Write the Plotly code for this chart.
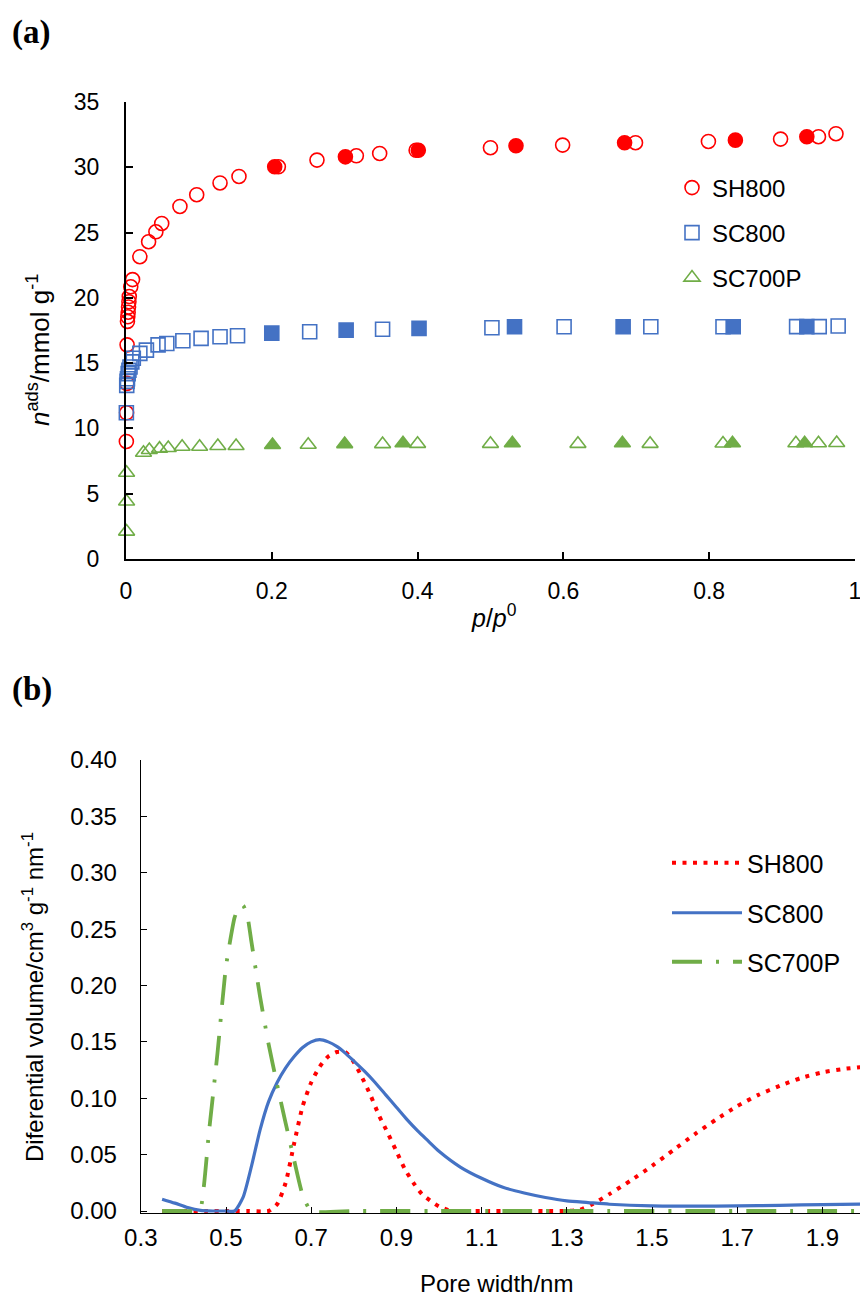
import plotly.graph_objects as go

W, H = 860, 1297

# ---------------- Panel (a) data: N2 isotherms ----------------
sh800_ads_x = [0.0005, 0.0008, 0.0012, 0.0015, 0.002, 0.0025, 0.003, 0.0035, 0.004, 0.0045, 0.0065, 0.009,
               0.019, 0.031, 0.041, 0.049, 0.074, 0.097, 0.129, 0.155, 0.209, 0.262, 0.316, 0.348, 0.398,
               0.500, 0.599, 0.699, 0.799, 0.898, 0.950, 0.974]
sh800_ads_y = [9.0, 11.2, 13.45, 16.4, 18.2, 18.55, 18.9, 19.3, 19.7, 20.1, 20.85, 21.4,
               23.15, 24.3, 25.06, 25.7, 27.0, 27.9, 28.8, 29.3, 30.04, 30.55, 30.88, 31.06, 31.3,
               31.5, 31.7, 31.88, 31.98, 32.16, 32.34, 32.57]
sh800_des_x = [0.204, 0.301, 0.401, 0.535, 0.684, 0.836, 0.934]
sh800_des_y = [30.04, 30.8, 31.3, 31.65, 31.88, 32.08, 32.34]

sc800_ads_x = [0.0005, 0.001, 0.0015, 0.002, 0.003, 0.004, 0.0055, 0.008, 0.010, 0.019, 0.028, 0.044, 0.056,
               0.078, 0.103, 0.129, 0.153, 0.252, 0.352, 0.502, 0.601, 0.720, 0.819, 0.920, 0.951, 0.977]
sc800_ads_y = [11.2, 13.3, 13.6, 13.8, 14.2, 14.45, 14.7, 15.1, 15.37, 15.75, 16.0, 16.4, 16.5,
               16.72, 16.9, 17.02, 17.1, 17.4, 17.59, 17.71, 17.79, 17.79, 17.79, 17.8, 17.8, 17.84]
sc800_des_x = [0.200, 0.302, 0.402, 0.533, 0.682, 0.833, 0.934]
sc800_des_y = [17.3, 17.53, 17.66, 17.79, 17.79, 17.79, 17.8]

sc700p_ads_x = [0.0008, 0.0008, 0.0008, 0.024, 0.032, 0.046, 0.058, 0.077, 0.101, 0.126, 0.151, 0.250,
                0.352, 0.400, 0.500, 0.620, 0.719, 0.819, 0.919, 0.950, 0.975]
sc700p_ads_y = [2.1, 4.4, 6.6, 8.14, 8.35, 8.45, 8.5, 8.6, 8.6, 8.65, 8.65, 8.75,
                8.8, 8.82, 8.82, 8.82, 8.82, 8.84, 8.86, 8.86, 8.88]
sc700p_des_x = [0.201, 0.300, 0.380, 0.530, 0.681, 0.832, 0.931]
sc700p_des_y = [8.73, 8.8, 8.86, 8.86, 8.86, 8.86, 8.86]

iso_ticks = [0, 0.2, 0.4, 0.6, 0.8, 1.0]
iso_ticktext = ["0", "0.2", "0.4", "0.6", "0.8", "1"]

# ---------------- Panel (b) data: pore size distributions ----------------
sh800_w = [0.35, 0.40, 0.45, 0.50, 0.55, 0.60, 0.62, 0.64, 0.66, 0.68, 0.70, 0.72, 0.74, 0.76, 0.78, 0.80,
           0.82, 0.84, 0.86, 0.88, 0.90, 0.92, 0.94, 0.96, 0.98, 1.00, 1.03, 1.10, 1.20, 1.30, 1.33, 1.36,
           1.40, 1.45, 1.50, 1.55, 1.60, 1.65, 1.70, 1.75, 1.80, 1.85, 1.90, 1.95, 2.00]
sh800_dv = [0, 0, 0, 0, 0, 0, 0.006, 0.025, 0.060, 0.093, 0.114, 0.128, 0.137, 0.141, 0.141, 0.132,
            0.118, 0.102, 0.084, 0.069, 0.053, 0.037, 0.025, 0.015, 0.009, 0.004, 0, 0, 0, 0, 0.001, 0.006,
            0.015, 0.027, 0.040, 0.054, 0.068, 0.081, 0.093, 0.103, 0.111, 0.118, 0.123, 0.126, 0.128]

sc800_w = [0.35, 0.38, 0.41, 0.44, 0.47, 0.50, 0.52, 0.54, 0.56, 0.58, 0.60, 0.62, 0.64, 0.66, 0.68, 0.70,
           0.72, 0.74, 0.76, 0.78, 0.80, 0.825, 0.85, 0.875, 0.90, 0.925, 0.95, 0.975, 1.00, 1.05, 1.10,
           1.15, 1.20, 1.25, 1.30, 1.35, 1.40, 1.50, 1.60, 1.70, 1.80, 1.90, 2.00]
sc800_dv = [0.0105, 0.007, 0.003, 0.0005, 0, 0, 0, 0.012, 0.040, 0.072, 0.097, 0.114, 0.127, 0.137, 0.145,
            0.150, 0.152, 0.150, 0.146, 0.140, 0.133, 0.124, 0.114, 0.103, 0.092, 0.081, 0.071, 0.062,
            0.053, 0.039, 0.029, 0.021, 0.016, 0.012, 0.009, 0.0075, 0.006, 0.0045, 0.0043, 0.0045, 0.005,
            0.0057, 0.0062]

sc700p_w = [0.35, 0.40, 0.43, 0.44, 0.46, 0.48, 0.50, 0.52, 0.53, 0.54, 0.55, 0.56, 0.58, 0.60, 0.62, 0.64,
            0.66, 0.68, 0.70, 0.80, 1.00, 1.20, 1.40, 1.60, 1.80, 2.00]
sc700p_dv = [0, 0, 0, 0.002, 0.070, 0.140, 0.217, 0.260, 0.270, 0.271, 0.262, 0.238, 0.190, 0.148, 0.112,
             0.078, 0.045, 0.014, 0, 0, 0, 0, 0, 0, 0, 0]

psd_ticks = [0.3, 0.5, 0.7, 0.9, 1.1, 1.3, 1.5, 1.7, 1.9]
psd_yticks = [0, 0.05, 0.10, 0.15, 0.20, 0.25, 0.30, 0.35, 0.40]

RED, BLUE, GREEN = "#FF0000", "#4472C4", "#70AD47"
FONT = "Arial, Liberation Sans, sans-serif"

fig = go.Figure()

def mk(x, y, sym, color, name, show, legend):
    return go.Scatter(x=x, y=y, mode="markers", name=name, showlegend=show, legend=legend,
                      cliponaxis=False, xaxis="x", yaxis="y",
                      marker=dict(symbol=sym, size=14, color=color, line=dict(width=1.6, color=color)))

fig.add_trace(mk(sh800_ads_x, sh800_ads_y, "circle-open", RED, "SH800", True, "legend"))
fig.add_trace(mk(sc800_ads_x, sc800_ads_y, "square-open", BLUE, "SC800", True, "legend2"))
fig.add_trace(mk(sc700p_ads_x, sc700p_ads_y, "triangle-up-open", GREEN, "SC700P", True, "legend3"))
fig.add_trace(mk(sh800_des_x, sh800_des_y, "circle", RED, "SH800 des", False, "legend"))
fig.add_trace(mk(sc800_des_x, sc800_des_y, "square", BLUE, "SC800 des", False, "legend2"))
fig.add_trace(mk(sc700p_des_x, sc700p_des_y, "triangle-up", GREEN, "SC700P des", False, "legend3"))

fig.add_trace(go.Scatter(x=sh800_w, y=sh800_dv, mode="lines", name="SH800", xaxis="x2", yaxis="y2",
                         legend="legend4", line=dict(color=RED, width=4, dash="4px,6.5px", shape="spline", smoothing=0.6)))
fig.add_trace(go.Scatter(x=sc800_w, y=sc800_dv, mode="lines", name="SC800", xaxis="x2", yaxis="y2",
                         legend="legend5", line=dict(color=BLUE, width=3.2, shape="spline", smoothing=0.6)))
fig.add_trace(go.Scatter(x=sc700p_w, y=sc700p_dv, mode="lines", name="SC700P", xaxis="x2", yaxis="y2",
                         legend="legend6", line=dict(color=GREEN, width=3.8, dash="30px,14px,3px,14px",
                                                     shape="spline", smoothing=0.5)))

def px_x(p):
    return p / W

def px_y(p):
    return 1 - p / H

axis_common = dict(showgrid=False, zeroline=False, showline=True, linecolor="black", ticks="inside",
                   tickcolor="black", mirror=False, automargin=False, ticklabeloverflow="allow")

# small negative offset so lines lying on zero are not half-clipped (in data units)
y2_lo = -0.0018
y2_bottom_px = 1211 + (-y2_lo) * 1127.5

fig.update_layout(
    template="none",
    width=W, height=H, margin=dict(l=0, r=0, t=0, b=0, pad=0),
    paper_bgcolor="white", plot_bgcolor="white",
    font=dict(family=FONT, color="black"),
    xaxis=dict(domain=[px_x(126), px_x(855)], anchor="y", range=[0, 1.0001], tickvals=iso_ticks,
               ticktext=iso_ticktext, ticklen=7, tickwidth=1.5, linewidth=2,
               tickfont=dict(size=23, family=FONT), ticklabelstandoff=10, **axis_common),
    yaxis=dict(domain=[px_y(559), px_y(102)], anchor="x", range=[0, 35], dtick=5, tick0=0,
               ticklen=7, tickwidth=1.5, linewidth=2,
               tickfont=dict(size=23, family=FONT), ticklabelstandoff=20, **axis_common),
    xaxis2=dict(domain=[px_x(140.8), 1.0], anchor="y2", range=[0.3, 0.3 + (860 - 140.8) / 426],
                tickvals=psd_ticks, tickformat=".1f", ticklen=6, tickwidth=1.3, linewidth=1.3,
                tickfont=dict(size=24, family=FONT), ticklabelstandoff=3, **axis_common),
    yaxis2=dict(domain=[px_y(y2_bottom_px), px_y(760)], anchor="x2", range=[y2_lo, 0.40], tickvals=psd_yticks,
                tickformat=".2f", ticklen=6, tickwidth=1.3, linewidth=1.3,
                tickfont=dict(size=24, family=FONT), ticklabelstandoff=18, **axis_common),
)

leg_a = dict(xanchor="left", yanchor="middle", bgcolor="rgba(0,0,0,0)", font=dict(size=24, family=FONT),
             borderwidth=0, itemwidth=30)
leg_b = dict(xanchor="left", yanchor="middle", bgcolor="rgba(0,0,0,0)", font=dict(size=25, family=FONT),
             borderwidth=0, itemwidth=70)
fig.update_layout(
    legend=dict(x=px_x(672), y=px_y(188), **leg_a),
    legend2=dict(x=px_x(672), y=px_y(233), **leg_a),
    legend3=dict(x=px_x(672), y=px_y(278), **leg_a),
    legend4=dict(x=px_x(667), y=px_y(863), **leg_b),
    legend5=dict(x=px_x(667), y=px_y(913), **leg_b),
    legend6=dict(x=px_x(667), y=px_y(962), **leg_b),
)

ann = [
    dict(text="<b>(a)</b>", x=px_x(10), y=px_y(32), xanchor="left", yanchor="middle",
         font=dict(size=33, family="Times New Roman, Liberation Serif, serif")),
    dict(text="<b>(b)</b>", x=px_x(10), y=px_y(689), xanchor="left", yanchor="middle",
         font=dict(size=33, family="Times New Roman, Liberation Serif, serif")),
    dict(text="<i>n</i><sup>ads</sup>/mmol g<sup>-1</sup>", x=px_x(38), y=px_y(350), textangle=-90,
         xanchor="center", yanchor="middle", font=dict(size=26, family=FONT)),
    dict(text="<i>p</i>/<i>p</i><sup>0</sup>", x=px_x(494), y=px_y(616), xanchor="center", yanchor="middle",
         font=dict(size=25, family=FONT)),
    dict(text="Diferential volume/cm<sup>3</sup> g<sup>-1</sup> nm<sup>-1</sup>", x=px_x(33), y=px_y(997),
         textangle=-90, xanchor="center", yanchor="middle", font=dict(size=24, family=FONT)),
    dict(text="Pore width/nm", x=px_x(496), y=px_y(1283), xanchor="center", yanchor="middle",
         font=dict(size=24, family=FONT)),
]
for a in ann:
    a.update(xref="paper", yref="paper", showarrow=False)
fig.update_layout(annotations=ann)

fig.write_html("out.html")
